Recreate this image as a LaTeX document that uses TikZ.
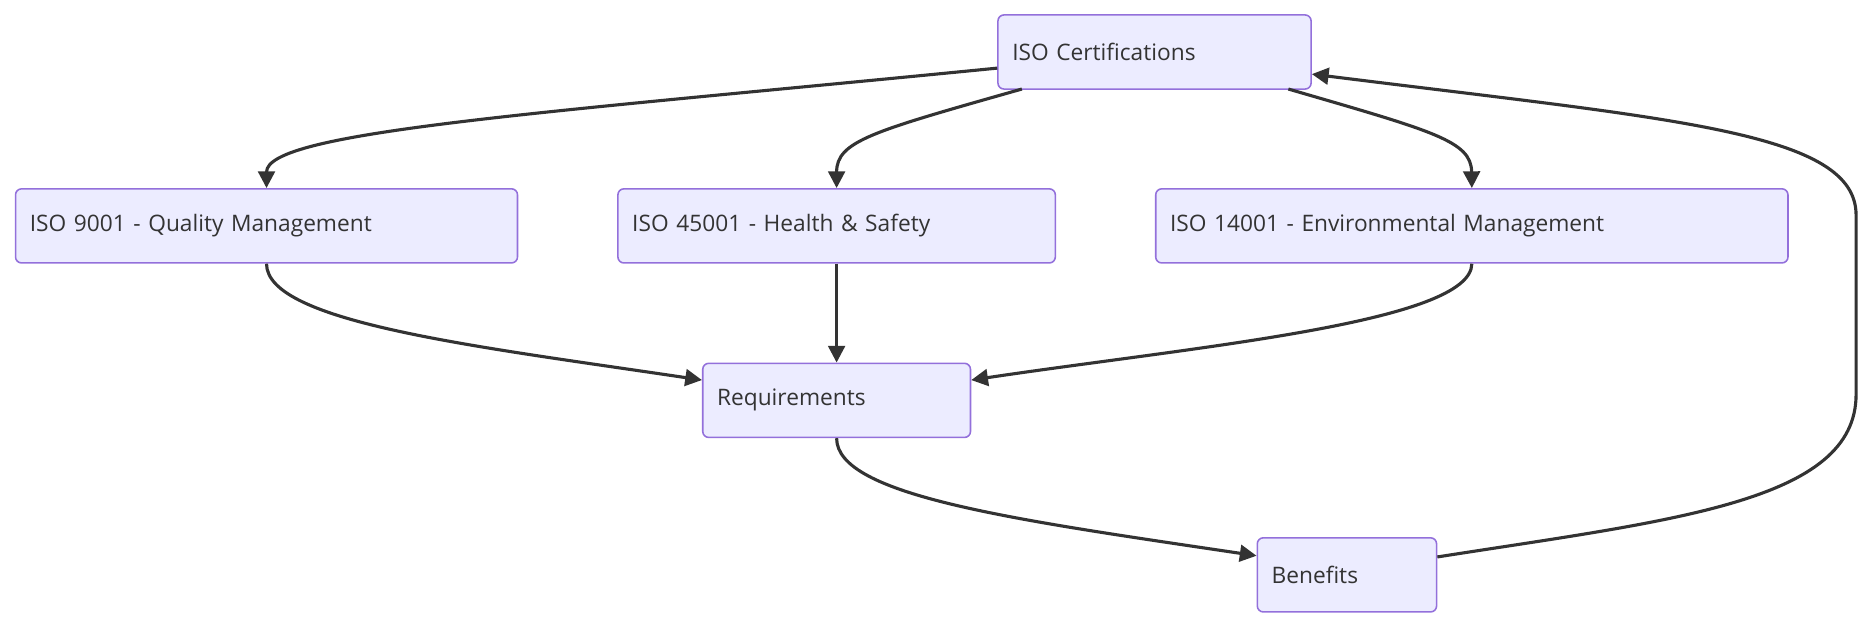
\documentclass[tikz,border=0pt]{standalone}
\usepackage{fontspec}
\setmainfont{Open Sans}
\usetikzlibrary{arrows.meta}
\definecolor{nfill}{HTML}{ECECFF}
\definecolor{nline}{HTML}{9370DB}
\definecolor{eline}{HTML}{333333}
\begin{document}
\begin{tikzpicture}[x=1pt,y=-1pt,
 box/.style={draw=nline,fill=nfill,line width=1.3pt,rounded corners=5pt,minimum height=62pt,inner xsep=12pt,inner ysep=0pt,font=\fontsize{19}{22}\selectfont,text=eline,align=left},
 e/.style={draw=eline,line width=2.6pt,-{Triangle[length=14pt,width=14pt]}}]
\useasboundingbox (0,0) rectangle (1568,525);
\node[box,text width=238pt] (c) at (966,43.5) {ISO Certifications};
\node[box,text width=396pt] (a) at (223,189) {ISO 9001 - Quality Management};
\node[box,text width=342pt] (b) at (700,189) {ISO 45001 - Health \& Safety};
\node[box,text width=505pt] (d) at (1231.5,189) {ISO 14001 - Environmental Management};
\node[box,text width=200pt] (r) at (700,335) {Requirements};
\node[box,text width=126pt] (f) at (1127,481) {Benefits};
\draw[e] (c.west|-0,57) .. controls (450,95) and (223,110) .. (a.north);
\draw[e] (855,74.5) .. controls (730,110) and (700,118) .. (b.north);
\draw[e] (1078,74.5) .. controls (1200,110) and (1231,118) .. (d.north);
\draw[e] (a.south) .. controls (223,270) and (400,290) .. (r.west|-0,318);
\draw[e] (b.south) -- (r.north);
\draw[e] (d.south) .. controls (1231,270) and (1000,290) .. (r.east|-0,318);
\draw[e] (r.south) .. controls (700,415) and (850,435) .. (f.west|-0,465);
\draw[e] (f.east|-0,466) .. controls (1400,435) and (1553,420) .. (1553,330) -- (1553,180) .. controls (1553,110) and (1400,100) .. (c.east|-0,62);
\end{tikzpicture}
\end{document}
